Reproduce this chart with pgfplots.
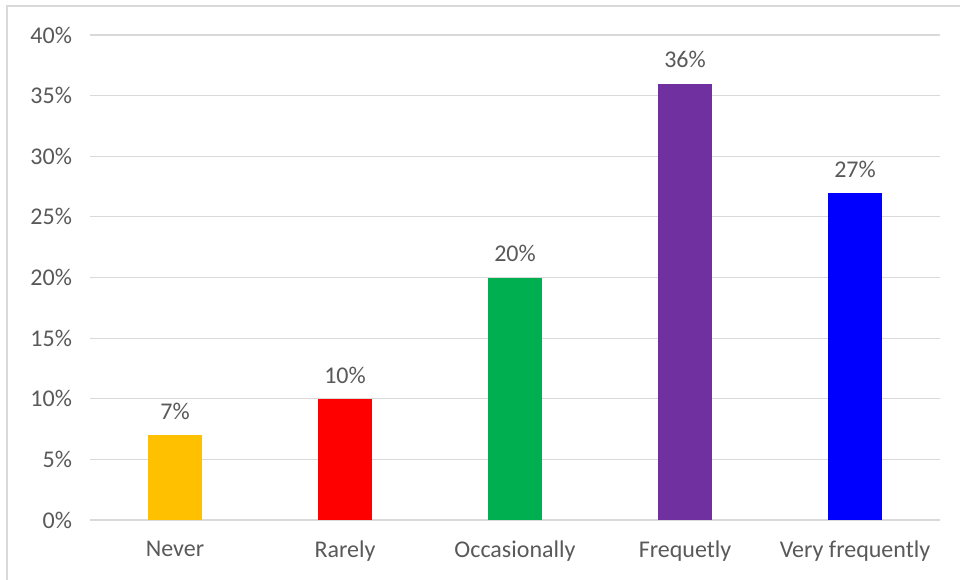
\documentclass[border=0pt]{standalone}
\usepackage{pgfplots}
\pgfplotsset{compat=1.18}
\usepackage{fontspec}
\setmainfont{Carlito}
\definecolor{txt}{HTML}{595959}
\definecolor{gridc}{HTML}{D9D9D9}
\definecolor{cNever}{HTML}{FFC000}
\definecolor{cRarely}{HTML}{FF0000}
\definecolor{cOcc}{HTML}{00B050}
\definecolor{cFreq}{HTML}{7030A0}
\definecolor{cVery}{HTML}{0000FF}
\begin{document}
\begin{tikzpicture}
\path[use as bounding box] (-67.5pt,-44.25pt) rectangle (652.5pt,390pt);
\begin{axis}[
  at={(0,0)}, anchor=south west,
  scale only axis,
  width=637.5pt, height=363.75pt,
  xmin=-0.5, xmax=4.5,
  ymin=0, ymax=40,
  xtick={0,1,2,3,4},
  xticklabels={Never,Rarely,Occasionally,Frequetly,Very frequently},
  ytick={0,5,...,40},
  yticklabel={\pgfmathprintnumber{\tick}\%},
  /pgf/number format/assume math mode=true,
  ymajorgrids,
  grid style={gridc, line width=0.9pt},
  axis line style={draw=none},
  major tick length=0pt,
  tick label style={font=\fontsize{18}{21}\selectfont, text=txt},
  yticklabel style={xshift=-10pt},
  xticklabel style={yshift=-12pt},
  ybar, bar shift=0pt, bar width=40.5pt,
  nodes near coords={\pgfmathprintnumber{\pgfplotspointmeta}\%},
  nodes near coords style={font=\fontsize{18}{21}\selectfont, text=txt, yshift=8pt},
  clip=false,
]
\addplot[fill=cNever, draw=none] coordinates {(0,7)};
\addplot[fill=cRarely, draw=none] coordinates {(1,10)};
\addplot[fill=cOcc, draw=none] coordinates {(2,20)};
\addplot[fill=cFreq, draw=none] coordinates {(3,36)};
\addplot[fill=cVery, draw=none] coordinates {(4,27)};
\end{axis}
% chart frame (left and top edges)
\draw[gridc, line width=1.3pt] (-62.25pt,-50pt) -- (-62.25pt,385.5pt) -- (660pt,385.5pt);
\end{tikzpicture}
\end{document}
